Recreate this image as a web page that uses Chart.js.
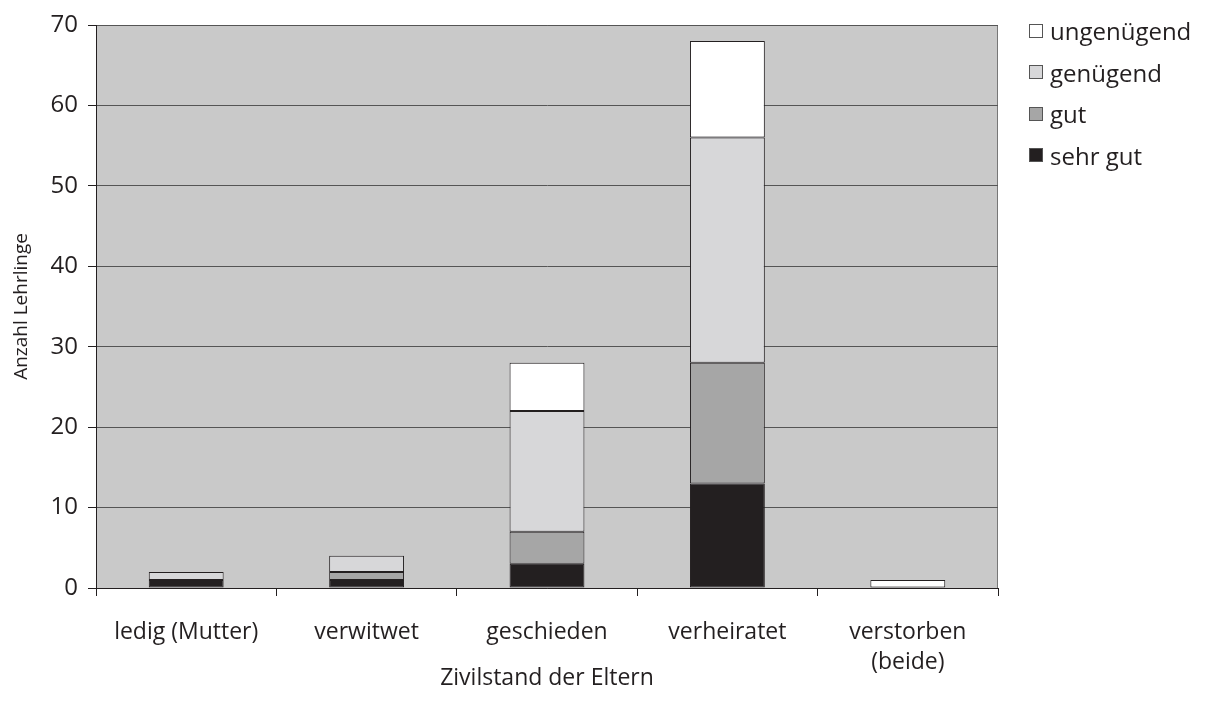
<!DOCTYPE html>
<html>
<head>
<meta charset="utf-8">
<script src="https://cdn.jsdelivr.net/npm/chart.js@4.4.0/dist/chart.umd.min.js"></script>
<style>
    html, body { margin: 0; padding: 0; background: #fff; }
    #wrap { position: relative; width: 1207px; height: 714px; }
    #legend { position: absolute; left: 1029px; top: 10px; font-family: "Open Sans", sans-serif; font-size: 24px; color: #231f20; }
    #legend div { height: 41.5px; display: flex; align-items: center; }
    #legend span.box { display: inline-block; width: 12px; height: 12px; border: 1px solid #555; margin-right: 7px; }
</style>
</head>
<body>
<div id="wrap">
    <canvas id="chart" width="1207" height="714"></canvas>
    <div id="legend"></div>
</div>
<script>
    "use strict";

    const categories = ['ledig (Mutter)', 'verwitwet', 'geschieden', 'verheiratet', ['verstorben', '(beide)']];
    const sehrGut = [1, 1, 3, 13, 0];
    const gut = [0, 1, 4, 15, 0];
    const genuegend = [1, 2, 15, 28, 0];
    const ungenuegend = [0, 0, 6, 12, 1];
    const yTicks = [0, 10, 20, 30, 40, 50, 60, 70];

    const font = '"Open Sans", sans-serif';

    const plotBg = {
        id: 'plotBg',
        beforeDraw(chart) {
            const a = chart.chartArea, ctx = chart.ctx;
            ctx.save();
            ctx.fillStyle = '#c9c9c9';
            ctx.fillRect(a.left, a.top, a.right - a.left, a.bottom - a.top);
            ctx.strokeStyle = '#777';
            ctx.lineWidth = 1;
            ctx.strokeRect(a.left + 0.5, a.top + 0.5, a.right - a.left - 1, a.bottom - a.top);
            ctx.restore();
        }
    };

    const seriesList = [
        { label: 'sehr gut', data: sehrGut, color: '#231f20' },
        { label: 'gut', data: gut, color: '#a6a6a6' },
        { label: 'genügend', data: genuegend, color: '#d7d7d9' },
        { label: 'ungenügend', data: ungenuegend, color: '#ffffff' }
    ];

    new Chart(document.getElementById('chart'), {
        type: 'bar',
        data: {
            labels: categories,
            datasets: seriesList.map(s => ({
                label: s.label,
                data: s.data,
                backgroundColor: s.color,
                borderColor: '#231f20',
                borderWidth: 1,
                borderSkipped: false,
                barPercentage: 0.415,
                categoryPercentage: 1
            }))
        },
        options: {
            responsive: false,
            animation: false,
            layout: { padding: { top: 25, right: 209, left: 0, bottom: 0 } },
            plugins: {
                legend: { display: false },
                tooltip: { enabled: false }
            },
            scales: {
                x: {
                    stacked: true,
                    grid: {
                        offset: true,
                        drawOnChartArea: false,
                        drawTicks: true,
                        tickLength: 8,
                        color: '#231f20'
                    },
                    border: { color: '#231f20' },
                    ticks: {
                        color: '#231f20',
                        font: { family: font, size: 23, lineHeight: 1.3 },
                        padding: 22,
                        maxRotation: 0
                    },
                    title: {
                        display: true,
                        text: 'Zivilstand der Eltern',
                        color: '#231f20',
                        font: { family: font, size: 23 },
                        padding: { top: 20, bottom: 22 }
                    },
                    afterFit(scale) { scale.height = 126; }
                },
                y: {
                    stacked: true,
                    min: 0,
                    max: 70,
                    afterBuildTicks(scale) { scale.ticks = yTicks.map(v => ({ value: v })); },
                    grid: {
                        color: '#555',
                        tickLength: 8,
                        tickColor: '#231f20'
                    },
                    border: { color: '#231f20' },
                    ticks: {
                        color: '#231f20',
                        font: { family: font, size: 24 },
                        padding: 10
                    },
                    title: {
                        display: true,
                        text: 'Anzahl Lehrlinge',
                        color: '#231f20',
                        font: { family: font, size: 19 },
                        padding: { top: 10, bottom: 0 }
                    },
                    afterFit(scale) { scale.width = 96; }
                }
            }
        },
        plugins: [plotBg]
    });

    let legend = document.getElementById('legend');
    seriesList.slice().reverse().forEach(s => {
        let row = document.createElement('div');
        row.innerHTML = '<span class="box" style="background:' + s.color + '"></span>' + s.label;
        legend.appendChild(row);
    });
</script>
</body>
</html>
